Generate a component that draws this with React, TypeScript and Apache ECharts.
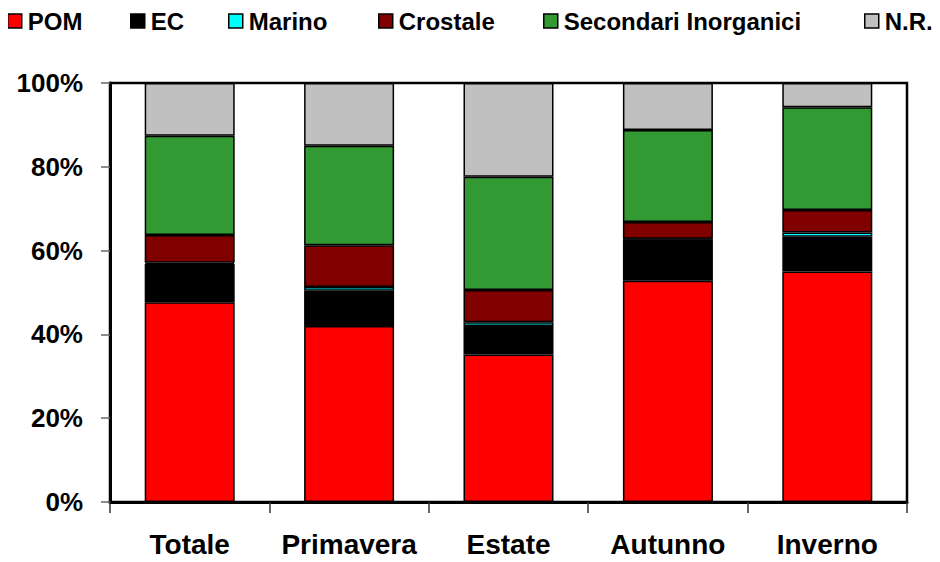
import React, { useEffect, useRef } from "react";
import * as echarts from "echarts";

// Periods on the x axis
const categories = ["Totale", "Primavera", "Estate", "Autunno", "Inverno"];

// Share of each component (%) per period, stacked bottom to top
const pom = [47.7, 42.0, 35.2, 52.8, 55.0];
const ec = [9.1, 8.4, 6.8, 9.9, 8.3];
const marino = [0.3, 0.9, 0.9, 0.1, 1.0];
const crostale = [6.6, 10.0, 7.7, 4.0, 5.4];
const secondariInorganici = [23.7, 23.7, 27.0, 22.0, 24.5];
const nonRicostruito = [12.6, 15.0, 22.4, 11.2, 5.8];

// Y axis ticks
const yTicks = [0, 20, 40, 60, 80, 100];

const seriesDefs = [
  { name: "POM", data: pom, color: "#FF0000" },
  { name: "EC", data: ec, color: "#000000" },
  { name: "Marino", data: marino, color: "#00FFFF" },
  { name: "Crostale", data: crostale, color: "#800000" },
  { name: "Secondari Inorganici", data: secondariInorganici, color: "#339933" },
  { name: "N.R.", data: nonRicostruito, color: "#C0C0C0" },
];

const FONT = "'Liberation Sans', Arial, Helvetica, sans-serif";
const LEGEND_LEFT = [7, 130, 228, 378, 543, 864];

export default function App() {
  const ref = useRef<HTMLDivElement>(null);

  useEffect(() => {
    if (!ref.current) return;
    const chart = echarts.init(ref.current, null, { renderer: "svg" });

    chart.setOption({
      animation: false,
      backgroundColor: "#ffffff",
      legend: seriesDefs.map((s, i) => ({
        data: [s.name],
        left: LEGEND_LEFT[i],
        top: 9,
        padding: 0,
        icon: "rect",
        itemWidth: 14,
        itemHeight: 14,
        itemStyle: { borderColor: "#000", borderWidth: 1.5 },
        textStyle: {
          fontFamily: FONT,
          fontWeight: "bold",
          fontSize: 24,
          color: "#000",
          padding: [0, 0, 0, 1],
        },
        selectedMode: false,
      })),
      grid: {
        left: 110,
        right: 33,
        top: 83,
        bottom: 60,
        show: true,
        borderColor: "#000",
        borderWidth: 2.5,
        backgroundColor: "transparent",
      },
      xAxis: {
        type: "category",
        data: categories,
        boundaryGap: true,
        axisLine: { lineStyle: { color: "#000", width: 3 } },
        axisTick: {
          show: true,
          inside: false,
          length: 11,
          lineStyle: { color: "#333", width: 1.5 },
        },
        axisLabel: {
          interval: 0,
          margin: 28,
          fontFamily: FONT,
          fontWeight: "bold",
          fontSize: 28,
          color: "#000",
        },
        splitLine: { show: false },
      },
      yAxis: {
        type: "value",
        min: yTicks[0],
        max: yTicks[yTicks.length - 1],
        interval: yTicks[1] - yTicks[0],
        axisLine: { show: true, lineStyle: { color: "#000", width: 3 } },
        axisTick: {
          show: true,
          length: 9,
          lineStyle: { color: "#666", width: 1.5 },
        },
        axisLabel: {
          margin: 27,
          formatter: "{value}%",
          fontFamily: FONT,
          fontWeight: "bold",
          fontSize: 26,
          color: "#000",
        },
        splitLine: { show: false },
      },
      series: seriesDefs.map((s) => ({
        name: s.name,
        type: "bar",
        stack: "total",
        data: s.data,
        barWidth: 90,
        itemStyle: { color: s.color, borderColor: "#000", borderWidth: 1.5 },
        emphasis: { disabled: true },
      })),
    });

    return () => chart.dispose();
  }, []);

  return <div ref={ref} style={{ width: 940, height: 562, margin: -8 }} />;
}
